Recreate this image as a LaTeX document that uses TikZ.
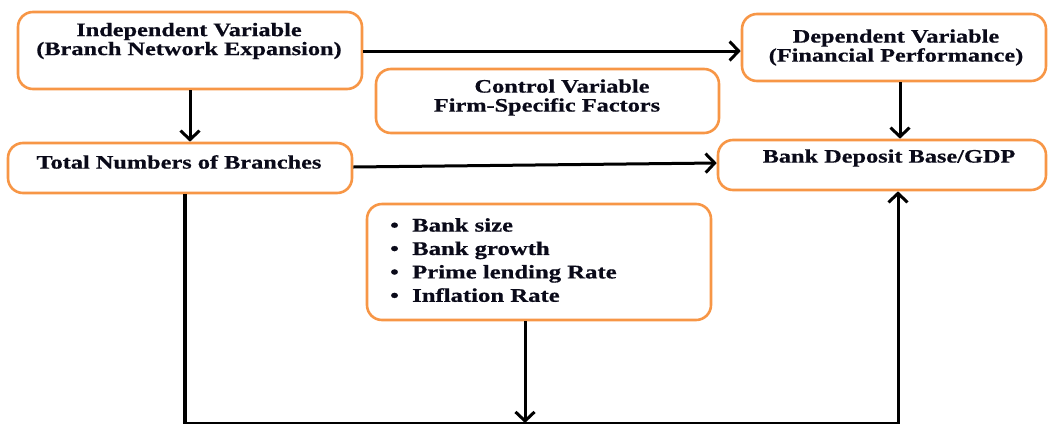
\documentclass[tikz,border=0pt]{standalone}
\usepackage{fontspec}
\usetikzlibrary{arrows.meta,calc}
\newfontfamily\boxfont{Liberation Serif}[FakeStretch=1.28, BoldFeatures={FakeBold=0.6}]
\definecolor{boxorange}{RGB}{247,150,70}
\definecolor{inkblack}{RGB}{10,10,25}
\tikzset{
  box/.style={draw=boxorange, line width=2.6pt, rounded corners=15pt, fill=white, inner sep=0pt},
  txt/.style={font=\boxfont\bfseries\fontsize{19}{19}\selectfont, text=inkblack, align=center, inner sep=0pt},
  bul/.style={font=\boxfont\bfseries\fontsize{19.3}{23.4}\selectfont, text=inkblack, align=left, inner sep=0pt},
  arr/.style={draw=black, line width=3pt, -{Straight Barb[length=9pt,width=19pt,line width=3pt]}},
  wire/.style={draw=black, line width=3pt}
}
\begin{document}
\begin{tikzpicture}[x=1pt,y=1pt]
\useasboundingbox (0,0) rectangle (1048,-426);

% boxes
\node[box, minimum width=344pt, minimum height=77pt] (iv)  at (190,-50.5) {};
\node[box, minimum width=304pt, minimum height=67pt] (dv)  at (894,-47.5) {};
\node[box, minimum width=343pt, minimum height=64pt] (cv)  at (547.5,-101) {};
\node[box, minimum width=344pt, minimum height=50pt] (tnb) at (180,-168) {};
\node[box, minimum width=328pt, minimum height=50pt] (bdb) at (882,-165) {};
\node[box, minimum width=344pt, minimum height=116pt] (fs) at (539,-262) {};

% texts
\node[txt] (ivt)  at (189,-41) {Independent Variable\\(Branch Network Expansion)};
\node[txt] (dvt)  at (896,-47.5) {Dependent Variable\\(Financial Performance)};
\node[txt] (cvt)  at (547,-97.5) {\hspace*{30pt}Control Variable\\Firm-Specific Factors};
\node[txt] (tnbt) at (179,-162) {Total Numbers of Branches};
\node[txt] (bdbt) at (889,-158) {Bank Deposit Base/GDP};
\node[bul, anchor=north west] (fst) at (390,-218) {%
  \makebox[22pt][l]{\textbullet}Bank size\\
  \makebox[22pt][l]{\textbullet}Bank growth\\
  \makebox[22pt][l]{\textbullet}Prime lending Rate\\
  \makebox[22pt][l]{\textbullet}Inflation Rate};

% junctions of the bottom feedback line
\coordinate (lb) at (185,-423);
\coordinate (rb) at (898,-423);

% connectors
\draw[arr] ([yshift=-0.5pt]iv.east) -- ([yshift=-0.5pt]iv.east -| dv.west);
\draw[arr] (iv.south) -- (iv.south |- tnb.north);
\draw[arr] ([yshift=1pt]tnb.east) -- ([yshift=2pt]bdb.west);
\draw[arr] ([xshift=6pt]dv.south) -- ([xshift=6pt]dv.south |- bdb.north);

\draw[wire, line width=4.5pt] ([xshift=5pt]tnb.south) -- (lb);
\draw[wire, line width=2pt] ([xshift=-2.25pt]lb) -- ([xshift=1.5pt]rb);
\draw[arr] (rb) -- (rb |- bdb.south);
\draw[arr] ([xshift=-14pt]fs.south) -- ([xshift=-14pt]fs.south |- rb);
\end{tikzpicture}
\end{document}
